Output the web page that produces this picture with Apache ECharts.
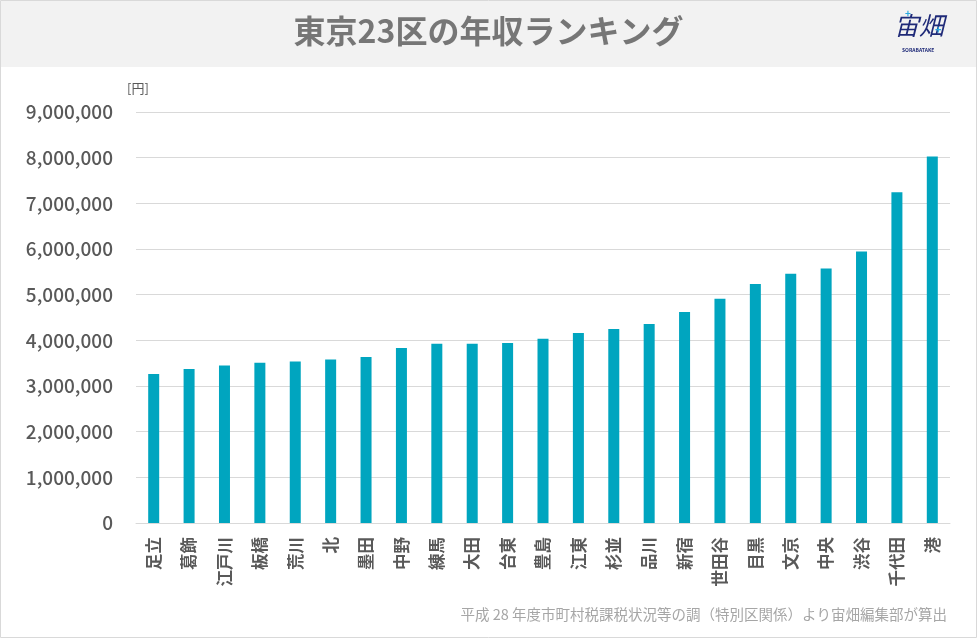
<!DOCTYPE html>
<html>
<head>
<meta charset="utf-8">
<title>東京23区の年収ランキング</title>
<script src="https://cdn.jsdelivr.net/npm/echarts@6/dist/echarts.min.js"></script>
<style>
    html, body { margin: 0; padding: 0; background: #fff; }
    #main { width: 977px; height: 638px; }
</style>
</head>
<body>
<div id="main"></div>
<script>
// 区名（年収の低い順）
var wards = ["足立", "葛飾", "江戸川", "板橋", "荒川", "北", "墨田", "中野", "練馬", "大田", "台東", "豊島",
    "江東", "杉並", "品川", "新宿", "世田谷", "目黒", "文京", "中央", "渋谷", "千代田", "港"];

// 年収 [円]
var income = [3263000, 3372000, 3451000, 3510000, 3539000, 3583000, 3635000, 3832000, 3926000, 3926000, 3941000, 4036000,
    4160000, 4247000, 4356000, 4619000, 4909000, 5231000, 5456000, 5573000, 5945000, 7241000, 8028000];

var yTicks = [0, 1000000, 2000000, 3000000, 4000000, 5000000, 6000000, 7000000, 8000000, 9000000];

var FONT = "'Noto Sans CJK JP', 'Noto Sans', sans-serif";

function formatYen(v) {
    return String(v).replace(/\B(?=(\d{3})+(?!\d))/g, ",");
}

function initChart() {
    var chart = echarts.init(document.getElementById('main'), null, { renderer: 'canvas' });

    var option = {
        backgroundColor: '#ffffff',
        animation: false,
        textStyle: { fontFamily: FONT },
        graphic: [
            // 外枠
            {
                type: 'rect', z: -10,
                shape: { x: 0.5, y: 0.5, width: 976, height: 637 },
                style: { fill: '#ffffff', stroke: '#d9d9d9', lineWidth: 1 }
            },
            // タイトル帯
            {
                type: 'rect', z: -9,
                shape: { x: 1, y: 1, width: 975, height: 66 },
                style: { fill: '#f2f2f2' }
            },
            {
                type: 'text', left: 'center', top: 15,
                style: { text: '東京23区の年収ランキング', font: 'bold 32px ' + FONT, fill: '#767676' }
            },
            // ロゴ
            {
                type: 'text', left: 894, top: 13,
                style: { text: '宙畑', font: 'italic 25px ' + FONT, fill: '#1f2a78' }
            },
            {
                type: 'text', left: 905, top: 8,
                style: { text: '+', font: 'bold 10px ' + FONT, fill: '#2aa9e0' }
            },
            {
                type: 'text', left: 935, top: 24,
                style: { text: '+', font: 'bold 11px ' + FONT, fill: '#2aa9e0' }
            },
            {
                type: 'text', left: 902, top: 48,
                style: { text: 'SORABATAKE', font: 'bold 5px ' + FONT, fill: '#1f2a78' }
            },
            // 単位
            {
                type: 'text', left: 127, top: 82,
                style: { text: '[円]', font: '13px ' + FONT, fill: '#595959' }
            },
            // 出典
            {
                type: 'text', right: 30, top: 607,
                style: { text: '平成 28 年度市町村税課税状況等の調（特別区関係）より宙畑編集部が算出', font: '14.5px ' + FONT, fill: '#a6a6a6' }
            }
        ],
        grid: {
            left: 136,
            right: 27,
            top: 112,
            bottom: 115
        },
        xAxis: {
            type: 'category',
            data: wards,
            axisLine: { lineStyle: { color: '#d9d9d9', width: 1 } },
            axisTick: { show: false },
            axisLabel: {
                rotate: 90,
                interval: 0,
                margin: 14,
                fontSize: 16.5,
                fontWeight: 'bold',
                color: '#595959',
                fontFamily: FONT
            }
        },
        yAxis: {
            type: 'value',
            min: yTicks[0],
            max: yTicks[yTicks.length - 1],
            interval: yTicks[1] - yTicks[0],
            axisLine: { show: false },
            axisTick: { show: false },
            splitLine: { lineStyle: { color: '#d9d9d9', width: 1 } },
            axisLabel: {
                margin: 23,
                fontSize: 19,
                fontWeight: 500,
                color: '#595959',
                fontFamily: FONT,
                formatter: formatYen
            }
        },
        series: [{
            name: '年収',
            type: 'bar',
            data: income,
            barWidth: 11,
            itemStyle: { color: '#00a5bf' }
        }]
    };

    chart.setOption(option);
    window.chart = chart;
}

initChart();
</script>
</body>
</html>
